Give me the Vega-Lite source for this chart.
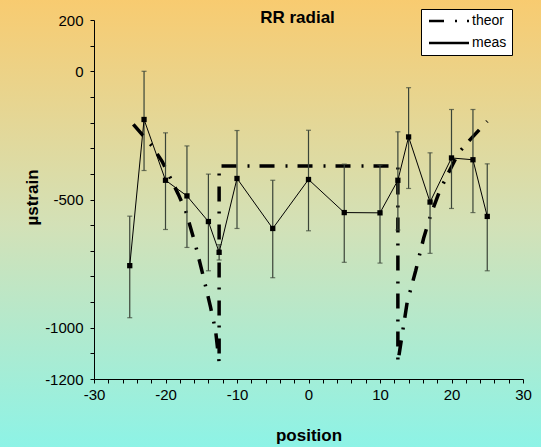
{
  "$schema": "https://vega.github.io/schema/vega-lite/v6.json",
  "width": 429,
  "height": 359,
  "autosize": "none",
  "padding": {"left": 94, "top": 20, "right": 18, "bottom": 68},
  "background": "#d2e0b8",
  "title": {"text": "RR radial", "font": "Liberation Sans", "fontSize": 17, "fontWeight": "bold", "color": "black", "anchor": "middle", "dx": -11, "dy": 18, "frame": "group", "offset": -27.5, "baseline": "alphabetic", "zindex": 2},
  "config": {
    "view": {"stroke": null},
    "axis": {"zindex": 1, "labelOverlap": false, "labelFlush": false, "labelBound": false, "grid": false,
      "domainColor": "black", "tickColor": "black", "labelColor": "black", "titleColor": "black", "domainWidth": 1, "tickWidth": 1, "tickSize": 4,
      "labelFont": "Liberation Sans", "labelFontSize": 15, "titleFont": "Liberation Sans", "titleFontSize": 17, "titleFontWeight": "bold"}
  },
  "datasets": {
    "meas": [
      {"x": -25, "y": -758, "lo": -961, "hi": -565, "series": "meas"},
      {"x": -23, "y": -188, "lo": -387, "hi": 0, "series": "meas"},
      {"x": -20, "y": -425, "lo": -617, "hi": -240, "series": "meas"},
      {"x": -17, "y": -486, "lo": -687, "hi": -291, "series": "meas"},
      {"x": -14, "y": -586, "lo": -778, "hi": -401, "series": "meas"},
      {"x": -12.5, "y": -706, "lo": -736, "hi": -676, "series": "meas"},
      {"x": -10, "y": -418, "lo": -613, "hi": -231, "series": "meas"},
      {"x": -5, "y": -613, "lo": -805, "hi": -425, "series": "meas"},
      {"x": 0, "y": -422, "lo": -622, "hi": -230, "series": "meas"},
      {"x": 5, "y": -551, "lo": -745, "hi": -362, "series": "meas"},
      {"x": 10, "y": -552, "lo": -748, "hi": -366, "series": "meas"},
      {"x": 12.5, "y": -425, "lo": -619, "hi": -236, "series": "meas"},
      {"x": 14, "y": -256, "lo": -457, "hi": -64, "series": "meas"},
      {"x": 17, "y": -510, "lo": -710, "hi": -318, "series": "meas"},
      {"x": 20, "y": -338, "lo": -535, "hi": -149, "series": "meas"},
      {"x": 23, "y": -345, "lo": -551, "hi": -149, "series": "meas"},
      {"x": 25, "y": -566, "lo": -778, "hi": -361, "series": "meas"}
    ],
    "theor": [
      {"x": -24.5, "y": -207, "series": "theor"},
      {"x": -21.9, "y": -291, "series": "theor"},
      {"x": -20.5, "y": -350, "series": "theor"},
      {"x": -19.3, "y": -417, "series": "theor"},
      {"x": -18.2, "y": -480, "series": "theor"},
      {"x": -17.2, "y": -543, "series": "theor"},
      {"x": -15.9, "y": -667, "series": "theor"},
      {"x": -14.8, "y": -790, "series": "theor"},
      {"x": -13.7, "y": -920, "series": "theor"},
      {"x": -13.0, "y": -1010, "series": "theor"},
      {"x": -12.5, "y": -1135, "series": "theor"},
      {"x": -12.5, "y": -369, "series": "theor"},
      {"x": 12.5, "y": -369, "series": "theor"},
      {"x": 12.5, "y": -1135, "series": "theor"},
      {"x": 13.1, "y": -1027, "series": "theor"},
      {"x": 13.8, "y": -901, "series": "theor"},
      {"x": 15.0, "y": -777, "series": "theor"},
      {"x": 16.1, "y": -651, "series": "theor"},
      {"x": 17.1, "y": -560, "series": "theor"},
      {"x": 18.3, "y": -470, "series": "theor"},
      {"x": 19.5, "y": -400, "series": "theor"},
      {"x": 21.0, "y": -318, "series": "theor"},
      {"x": 22.4, "y": -273, "series": "theor"},
      {"x": 25.0, "y": -195, "series": "theor"}
    ]
  },
  "layer": [
    {
      "data": {"values": [{}]},
      "mark": {"type": "rect", "color": {"gradient": "linear", "x1": 0, "y1": 0, "x2": 0, "y2": 1, "stops": [{"offset": 0.012, "color": "#F8CB70"}, {"offset": 0.5, "color": "#D3E1B7"}, {"offset": 0.981, "color": "#8DF3E6"}]}},
      "encoding": {
        "x": {"datum": -50, "type": "quantitative", "title": "position", "scale": {"domain": [-30, 30], "nice": false, "zero": false},
          "axis": {"zindex": 1, "values": [-30,-28,-26,-24,-22,-20,-18,-16,-14,-12,-10,-8,-6,-4,-2,0,2,4,6,8,10,12,14,16,18,20,22,24,26,28,30], "labelExpr": "datum.value % 10 === 0 ? '' + datum.value : ''", "labelPadding": 4, "titleY": 61, "titleBaseline": "alphabetic"}},
        "x2": {"datum": 40},
        "y": {"datum": 300, "type": "quantitative", "title": "µstrain", "scale": {"domain": [-1200, 200], "nice": false, "zero": false},
          "axis": {"zindex": 1, "values": [-1200,-1100,-1000,-900,-800,-700,-600,-500,-400,-300,-200,-100,0,100,200], "labelExpr": "indexof([200,0,-500,-1000,-1200], datum.value) >= 0 ? '' + datum.value : ''", "labelPadding": 7, "titleX": -62, "titleY": 177, "titleAngle": -90, "titleBaseline": "middle", "titleAlign": "center"}},
        "y2": {"datum": -1500}
      }
    },
    {
      "data": {"name": "theor"},
      "mark": {"type": "line", "strokeWidth": 3.5, "color": "black", "strokeCap": "butt"},
      "encoding": {
        "x": {"field": "x", "type": "quantitative", "title": "position",
          "axis": {"zindex": 1, "values": [-30,-28,-26,-24,-22,-20,-18,-16,-14,-12,-10,-8,-6,-4,-2,0,2,4,6,8,10,12,14,16,18,20,22,24,26,28,30], "labelExpr": "datum.value % 10 === 0 ? '' + datum.value : ''", "labelPadding": 4, "titleY": 61, "titleBaseline": "alphabetic"}},
        "y": {"field": "y", "type": "quantitative", "title": "µstrain",
          "axis": {"zindex": 1, "values": [-1200,-1100,-1000,-900,-800,-700,-600,-500,-400,-300,-200,-100,0,100,200], "labelExpr": "indexof([200,0,-500,-1000,-1200], datum.value) >= 0 ? '' + datum.value : ''", "labelPadding": 7, "titleX": -62, "titleY": 177, "titleAngle": -90, "titleBaseline": "middle", "titleAlign": "center"}},
        "order": {"value": null},
        "strokeDash": {"field": "series", "type": "nominal",
          "scale": {"domain": ["theor", "meas"], "range": [[15, 11, 2, 10], [1, 0]]},
          "legend": {"orient": "none", "legendX": 327, "legendY": -11, "title": null, "zindex": 2,
            "fillColor": "white", "strokeColor": "black", "padding": 5,
            "symbolType": "M-4,0H4", "symbolSize": 100, "symbolOffset": 16, "symbolStrokeWidth": 2.5, "symbolStrokeColor": "black", "symbolOpacity": 1,
            "labelOffset": 16, "rowPadding": 8,
            "labelFont": "Liberation Sans", "labelFontSize": 14, "labelColor": "black"}
        }
      }
    },
    {
      "data": {"name": "meas"},
      "mark": {"type": "errorbar", "color": "#3a4438", "thickness": 1.2, "ticks": {"size": 5, "thickness": 1.2, "color": "#3a4438"}},
      "encoding": {
        "x": {"field": "x", "type": "quantitative", "title": "position",
          "axis": {"zindex": 1, "values": [-30,-28,-26,-24,-22,-20,-18,-16,-14,-12,-10,-8,-6,-4,-2,0,2,4,6,8,10,12,14,16,18,20,22,24,26,28,30], "labelExpr": "datum.value % 10 === 0 ? '' + datum.value : ''", "labelPadding": 4, "titleY": 61, "titleBaseline": "alphabetic"}},
        "y": {"field": "lo", "type": "quantitative", "title": "µstrain",
          "axis": {"zindex": 1, "values": [-1200,-1100,-1000,-900,-800,-700,-600,-500,-400,-300,-200,-100,0,100,200], "labelExpr": "indexof([200,0,-500,-1000,-1200], datum.value) >= 0 ? '' + datum.value : ''", "labelPadding": 7, "titleX": -62, "titleY": 177, "titleAngle": -90, "titleBaseline": "middle", "titleAlign": "center"}},
        "y2": {"field": "hi"}
      }
    },
    {
      "data": {"name": "meas"},
      "mark": {"type": "line", "strokeWidth": 1, "color": "black"},
      "encoding": {
        "x": {"field": "x", "type": "quantitative", "title": "position",
          "axis": {"zindex": 1, "values": [-30,-28,-26,-24,-22,-20,-18,-16,-14,-12,-10,-8,-6,-4,-2,0,2,4,6,8,10,12,14,16,18,20,22,24,26,28,30], "labelExpr": "datum.value % 10 === 0 ? '' + datum.value : ''", "labelPadding": 4, "titleY": 61, "titleBaseline": "alphabetic"}},
        "y": {"field": "y", "type": "quantitative", "title": "µstrain",
          "axis": {"zindex": 1, "values": [-1200,-1100,-1000,-900,-800,-700,-600,-500,-400,-300,-200,-100,0,100,200], "labelExpr": "indexof([200,0,-500,-1000,-1200], datum.value) >= 0 ? '' + datum.value : ''", "labelPadding": 7, "titleX": -62, "titleY": 177, "titleAngle": -90, "titleBaseline": "middle", "titleAlign": "center"}}
      }
    },
    {
      "data": {"name": "meas"},
      "mark": {"type": "square", "size": 28, "color": "black", "filled": true, "opacity": 1},
      "encoding": {
        "x": {"field": "x", "type": "quantitative", "title": "position",
          "axis": {"zindex": 1, "values": [-30,-28,-26,-24,-22,-20,-18,-16,-14,-12,-10,-8,-6,-4,-2,0,2,4,6,8,10,12,14,16,18,20,22,24,26,28,30], "labelExpr": "datum.value % 10 === 0 ? '' + datum.value : ''", "labelPadding": 4, "titleY": 61, "titleBaseline": "alphabetic"}},
        "y": {"field": "y", "type": "quantitative", "title": "µstrain",
          "axis": {"zindex": 1, "values": [-1200,-1100,-1000,-900,-800,-700,-600,-500,-400,-300,-200,-100,0,100,200], "labelExpr": "indexof([200,0,-500,-1000,-1200], datum.value) >= 0 ? '' + datum.value : ''", "labelPadding": 7, "titleX": -62, "titleY": 177, "titleAngle": -90, "titleBaseline": "middle", "titleAlign": "center"}}
      }
    }
  ]
}
